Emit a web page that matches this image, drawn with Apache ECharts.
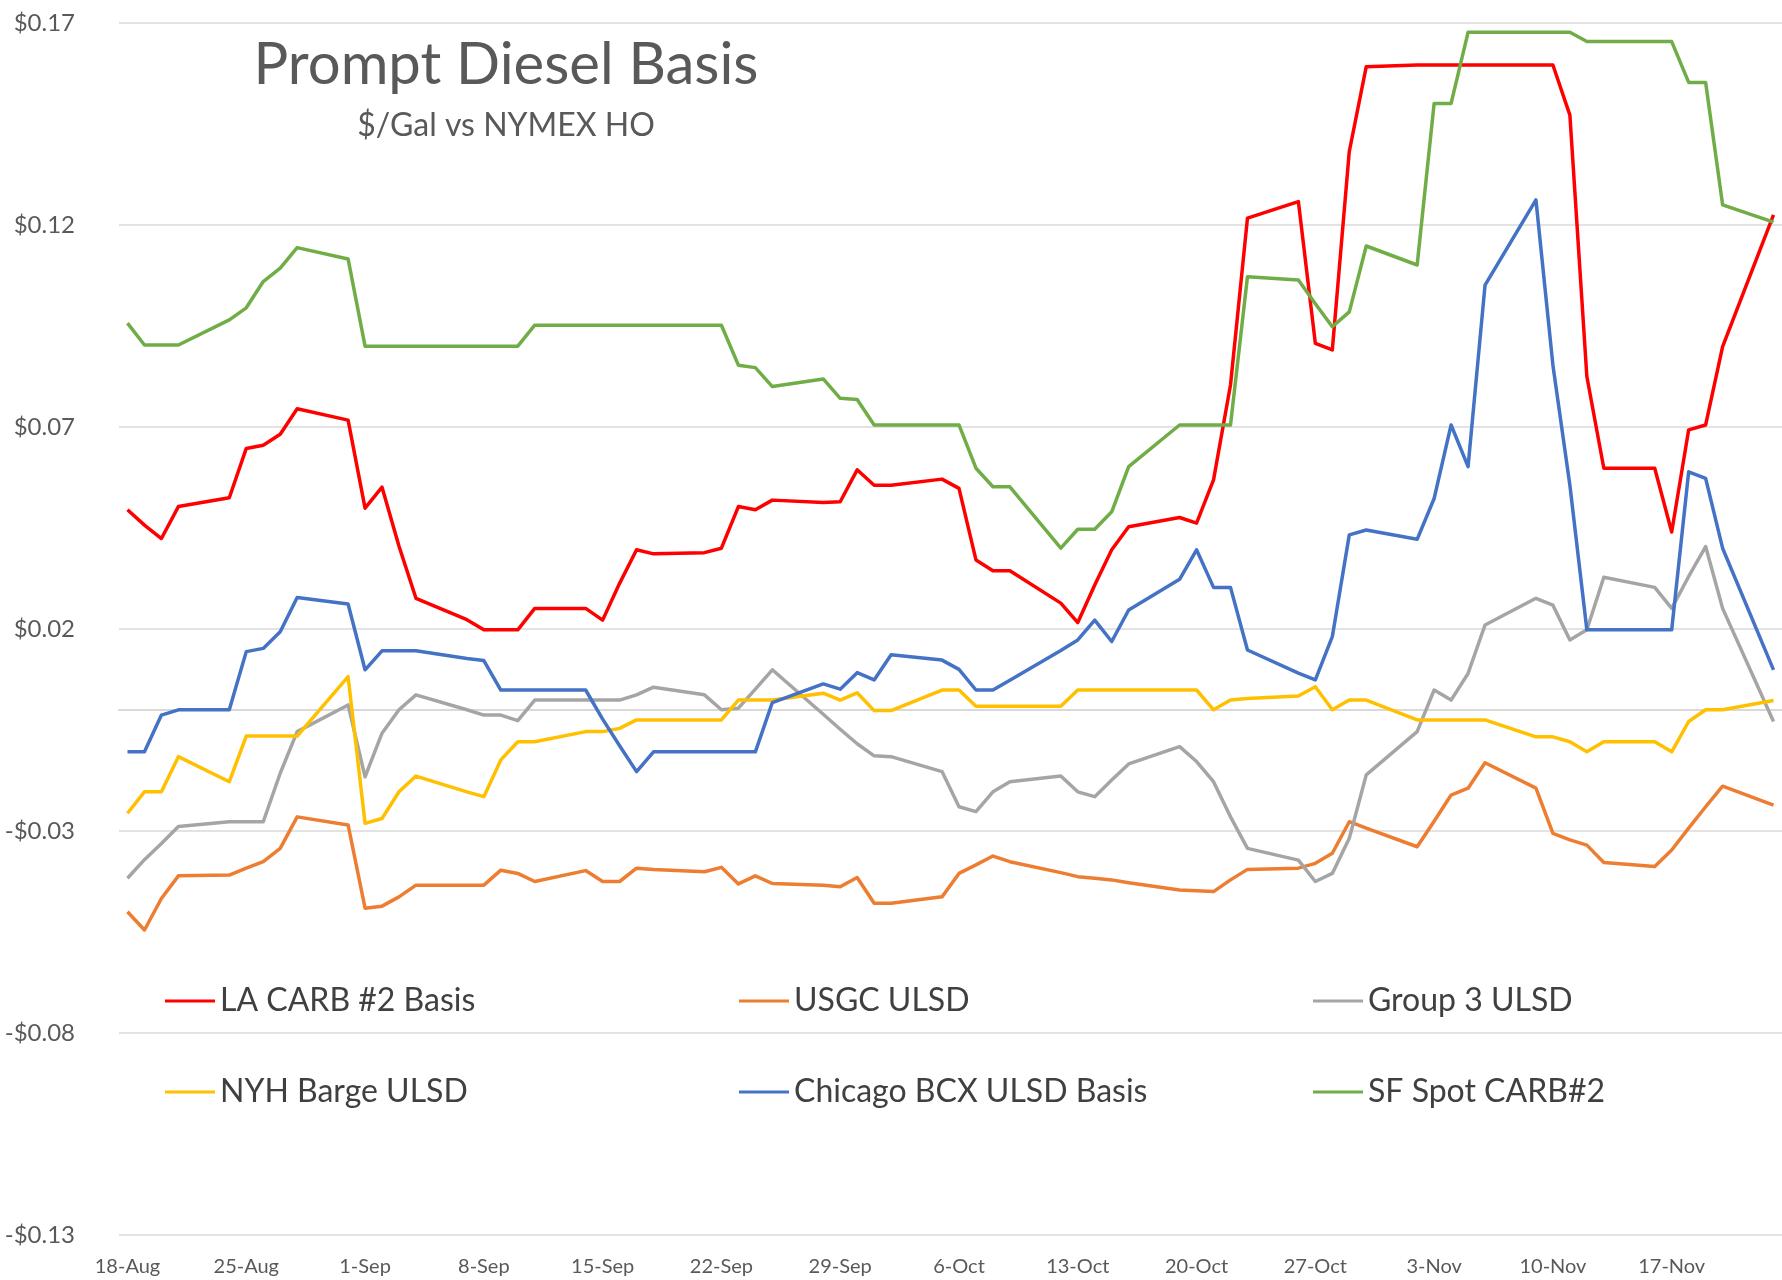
<!DOCTYPE html>
<html>
<head>
<meta charset="utf-8">
<script src="https://cdn.jsdelivr.net/npm/echarts@6/dist/echarts.min.js"></script>
<style>
html,body{margin:0;padding:0;background:#ffffff;}
#chart{width:1782px;height:1280px;}
</style>
</head>
<body>
<div id="chart"></div>
<script>
// ---- Data ----
const tradeDates = ['2020-08-18','2020-08-19','2020-08-20','2020-08-21','2020-08-24','2020-08-25','2020-08-26','2020-08-27','2020-08-28','2020-08-31','2020-09-01','2020-09-02','2020-09-03','2020-09-04','2020-09-07','2020-09-08','2020-09-09','2020-09-10','2020-09-11','2020-09-14','2020-09-15','2020-09-16','2020-09-17','2020-09-18','2020-09-21','2020-09-22','2020-09-23','2020-09-24','2020-09-25','2020-09-28','2020-09-29','2020-09-30','2020-10-01','2020-10-02','2020-10-05','2020-10-06','2020-10-07','2020-10-08','2020-10-09','2020-10-12','2020-10-13','2020-10-14','2020-10-15','2020-10-16','2020-10-19','2020-10-20','2020-10-21','2020-10-22','2020-10-23','2020-10-26','2020-10-27','2020-10-28','2020-10-29','2020-10-30','2020-11-02','2020-11-03','2020-11-04','2020-11-05','2020-11-06','2020-11-09','2020-11-10','2020-11-11','2020-11-12','2020-11-13','2020-11-16','2020-11-17','2020-11-18','2020-11-19','2020-11-20','2020-11-23'];

const laCarb = [0.0495,0.0457,0.0424,0.0503, 0.0525,0.0647,0.0655,0.0682,0.0745, 0.0717,0.0499,0.0551,0.0405,0.0276, 0.0223,0.0198,0.0198,0.0198,0.0251, 0.0251,0.0222,0.0313,0.0396,0.0386, 0.0389,0.0400,0.0503,0.0495,0.0519, 0.0513,0.0515,0.0594,0.0556,0.0556, 0.0571,0.0548,0.0371,0.0344,0.0344, 0.0264,0.0216,0.0309,0.0396,0.0453, 0.0476,0.0462,0.0569,0.0804,0.1217, 0.1258,0.0907,0.0891,0.1382,0.1592, 0.1596,0.1596,0.1596,0.1596,0.1596, 0.1596,0.1596,0.1472,0.0825,0.0598, 0.0598,0.0440,0.0693,0.0705,0.0899, 0.1225];

const usgc = [-0.0500,-0.0545,-0.0467,-0.0411, -0.0409,-0.0392,-0.0376,-0.0343,-0.0265, -0.0285,-0.0491,-0.0486,-0.0463,-0.0434, -0.0434,-0.0434,-0.0397,-0.0405,-0.0425, -0.0398,-0.0425,-0.0425,-0.0392,-0.0395, -0.0401,-0.0390,-0.0431,-0.0411,-0.0430, -0.0434,-0.0438,-0.0415,-0.0479,-0.0479, -0.0463,-0.0405,-0.0384,-0.0362,-0.0376, -0.0403,-0.0413,-0.0417,-0.0421,-0.0428, -0.0446,-0.0448,-0.0450,-0.0421,-0.0395, -0.0392,-0.0380,-0.0355,-0.0277,-0.0293, -0.0339,-0.0276,-0.0211,-0.0194,-0.0131, -0.0194,-0.0306,-0.0322,-0.0335,-0.0378, -0.0388,-0.0347,-0.0293,-0.0240,-0.0189, -0.0236];

const group3 = [-0.0417,-0.0371,-0.0331,-0.0289, -0.0277,-0.0277,-0.0277,-0.0157,-0.0054, 0.0012,-0.0166,-0.0058,0.0000,0.0037, 0.0000,-0.0013,-0.0013,-0.0027,0.0024, 0.0024,0.0024,0.0024,0.0037,0.0056, 0.0037,0.0000,0.0004,0.0051,0.0099, -0.0011,-0.0048,-0.0084,-0.0114,-0.0116, -0.0153,-0.0240,-0.0252,-0.0203,-0.0178, -0.0164,-0.0203,-0.0215,-0.0174,-0.0134, -0.0091,-0.0128,-0.0178,-0.0265,-0.0343, -0.0372,-0.0425,-0.0405,-0.0318,-0.0161, -0.0054,0.0049,0.0024,0.0090,0.0210, 0.0276,0.0259,0.0173,0.0198,0.0328, 0.0303,0.0251,0.0330,0.0404,0.0251, -0.0029];

const nyhBarge = [-0.0256,-0.0203,-0.0203,-0.0116, -0.0178,-0.0065,-0.0065,-0.0065,-0.0065, 0.0082,-0.0281,-0.0269,-0.0203,-0.0164, -0.0203,-0.0215,-0.0124,-0.0079,-0.0079, -0.0054,-0.0054,-0.0046,-0.0025,-0.0025, -0.0025,-0.0025,0.0024,0.0024,0.0024, 0.0041,0.0024,0.0042,-0.0002,-0.0002, 0.0049,0.0049,0.0009,0.0009,0.0009, 0.0009,0.0049,0.0049,0.0049,0.0049, 0.0049,0.0049,0.0000,0.0024,0.0028, 0.0034,0.0057,0.0000,0.0024,0.0024, -0.0025,-0.0025,-0.0025,-0.0025,-0.0025, -0.0067,-0.0067,-0.0079,-0.0104,-0.0079, -0.0079,-0.0104,-0.0029,0.0000,0.0000, 0.0023];

const chicagoBcx = [-0.0104,-0.0104,-0.0013,0.0000, 0.0000,0.0144,0.0152,0.0193,0.0278, 0.0262,0.0099,0.0146,0.0146,0.0146, 0.0127,0.0122,0.0049,0.0049,0.0049, 0.0049,-0.0023,-0.0089,-0.0153,-0.0104, -0.0104,-0.0104,-0.0104,-0.0104,0.0018, 0.0064,0.0051,0.0092,0.0074,0.0136, 0.0123,0.0100,0.0049,0.0049,0.0073, 0.0147,0.0173,0.0222,0.0169,0.0247, 0.0323,0.0396,0.0303,0.0303,0.0148, 0.0091,0.0074,0.0181,0.0433,0.0445, 0.0422,0.0523,0.0705,0.0602,0.1051, 0.1262,0.0853,0.0556,0.0198,0.0198, 0.0198,0.0198,0.0589,0.0573,0.0400, 0.0099];

const sfSpot = [0.0957,0.0903,0.0903,0.0903, 0.0965,0.0995,0.1060,0.1093,0.1144, 0.1116,0.0900,0.0900,0.0900,0.0900, 0.0900,0.0900,0.0900,0.0900,0.0952, 0.0952,0.0952,0.0952,0.0952,0.0952, 0.0952,0.0952,0.0853,0.0847,0.0800, 0.0819,0.0771,0.0768,0.0705,0.0705, 0.0705,0.0705,0.0598,0.0552,0.0552, 0.0400,0.0447,0.0447,0.0490,0.0602, 0.0705,0.0705,0.0705,0.0705,0.1072, 0.1064,0.1005,0.0948,0.0985,0.1148, 0.1101,0.1501,0.1501,0.1677,0.1677, 0.1677,0.1677,0.1677,0.1654,0.1654, 0.1654,0.1654,0.1553,0.1553,0.1250, 0.1207];

const seriesNames = ['LA CARB #2 Basis','USGC ULSD','Group 3 ULSD','NYH Barge ULSD','Chicago BCX ULSD Basis','SF Spot CARB#2'];
const seriesColors = ['#ff0000','#ed7d31','#a5a5a5','#ffc000','#4472c4','#70ad47'];
const seriesValues = [laCarb, usgc, group3, nyhBarge, chicagoBcx, sfSpot];

const yTickValues = [-0.13,-0.08,-0.03,0.02,0.07,0.12,0.17];
const xTickLabels = ['18-Aug','25-Aug','1-Sep','8-Sep','15-Sep','22-Sep','29-Sep','6-Oct','13-Oct','20-Oct','27-Oct','3-Nov','10-Nov','17-Nov'];

const titleText = 'Prompt Diesel Basis';
const subtitleText = '$/Gal vs NYMEX HO';

// ---- Build calendar-day category axis (Excel date axis) ----
const MONTHS = ['Jan','Feb','Mar','Apr','May','Jun','Jul','Aug','Sep','Oct','Nov','Dec'];
function parseD(s){const p=s.split('-');return Date.UTC(+p[0],+p[1]-1,+p[2]);}
function fmtD(t){const d=new Date(t);return d.getUTCDate()+'-'+MONTHS[d.getUTCMonth()];}
const DAY = 86400000;
const t0 = parseD(tradeDates[0]), t1 = parseD(tradeDates[tradeDates.length-1]);
const calendar = [];
for (let t=t0; t<=t1; t+=DAY) calendar.push(fmtD(t));
function toCalendar(vals){
  const arr = new Array(calendar.length).fill(null);
  tradeDates.forEach((s,i)=>{arr[Math.round((parseD(s)-t0)/DAY)] = vals[i];});
  return arr;
}

const FONT = 'Lato, "Noto Sans", "Liberation Sans", sans-serif';
const yStep = Math.round((yTickValues[1]-yTickValues[0])*1000)/1000;

const legendCols = [165, 739, 1313];
const legendRows = [985, 1076];

const chart = echarts.init(document.getElementById('chart'), null, {renderer:'canvas'});
chart.setOption({
  animation: false,
  backgroundColor: '#ffffff',
  textStyle: {fontFamily: FONT},
  grid: {left: 119, right: 0, top: 23, bottom: 45, containLabel: false},
  graphic: [
    {type:'text', x: 506, y: 65, z: 10, style:{text: titleText, font: '58px ' + FONT, fill:'#595959', align:'center', verticalAlign:'middle'}},
    {type:'text', x: 506, y: 126, z: 10, style:{text: subtitleText, font: '32px ' + FONT, fill:'#595959', align:'center', verticalAlign:'middle'}}
  ],
  legend: seriesNames.map((n,i)=>({
    data:[n], left: legendCols[i%3], top: legendRows[Math.floor(i/3)],
    icon:'rect', itemWidth:50, itemHeight:3, padding:0, itemGap:0,
    selectedMode:false,
    textStyle:{fontSize:32, color:'#404040', fontFamily: FONT}
  })),
  xAxis: [{
    type:'category', data: calendar, boundaryGap:true,
    axisLine:{show:false, onZero:false}, axisTick:{show:false},
    splitLine:{show:false},
    axisLabel:{
      interval: (idx, val) => xTickLabels.indexOf(val) >= 0,
      color:'#595959', fontSize:20, fontFamily: FONT, margin: 22
    }
  },{
    type:'category', data: calendar, boundaryGap:true, position:'bottom',
    axisLine:{show:true, onZero:true, lineStyle:{color:'#d9d9d9', width:2}},
    axisTick:{show:false}, axisLabel:{show:false}, splitLine:{show:false}
  }],
  yAxis: {
    type:'value', min: yTickValues[0], max: yTickValues[yTickValues.length-1], interval: yStep,
    axisLine:{show:false}, axisTick:{show:false},
    splitLine:{show:true, lineStyle:{color:'#e3e3e3', width:2}},
    axisLabel:{
      color:'#595959', fontSize:24, fontFamily: FONT, margin: 44,
      formatter: v => (v < -1e-9 ? '-' : '') + '$' + Math.abs(v).toFixed(2)
    }
  },
  series: seriesNames.map((n,i)=>({
    name: n, type:'line', xAxisIndex:0, data: toCalendar(seriesValues[i]),
    connectNulls:true, showSymbol:false, symbol:'none', smooth:false,
    color: seriesColors[i],
    lineStyle:{width:3.5, color: seriesColors[i], join:'round'},
    emphasis:{disabled:true}
  }))
});
</script>
</body>
</html>
